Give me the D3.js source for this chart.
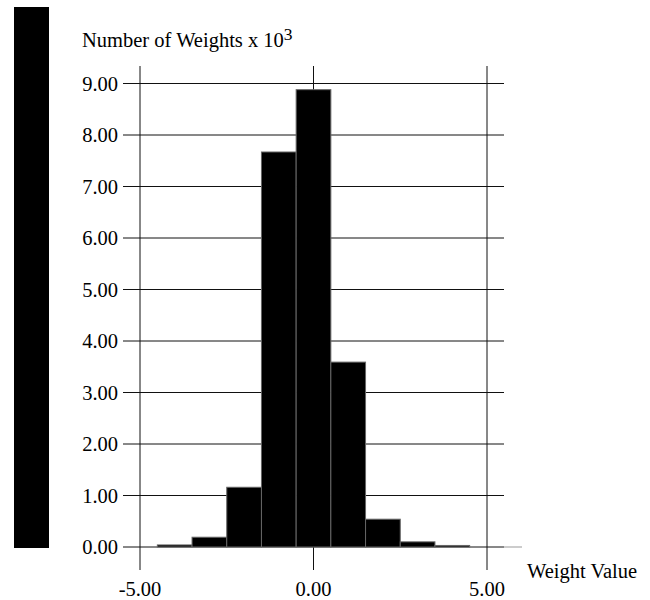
<!DOCTYPE html>
<html>
<head>
<meta charset="utf-8">
<script src="https://cdn.jsdelivr.net/npm/d3@7"></script>
<style>
	body { margin: 0; background: #fff; }
	text { font-family: "Liberation Serif", "Times New Roman", serif; fill: #000; }
</style>
</head>
<body>
<div id="chart"></div>
<script>
// histogram bins (left edge, width 1) and counts in thousands
var binStarts = [-4.5, -3.5, -2.5, -1.5, -0.5, 0.5, 1.5, 2.5, 3.5];
var counts = [0.04, 0.19, 1.16, 7.67, 8.88, 3.59, 0.54, 0.10, 0.03];
var xTicks = [-5, 0, 5];
var yTicks = [0, 1, 2, 3, 4, 5, 6, 7, 8, 9];

var width = 650, height = 600;

var svg = d3.select("#chart")
			.append("svg")
			.attr("width", width)
			.attr("height", height);

var x = d3.scaleLinear().domain([-5, 5]).range([140, 487]);
var y = d3.scaleLinear().domain([0, 9]).range([547, 83.5]);

// plain hyphen for negatives, like the original
var fmt = function (d) { return d3.format(".2f")(d).replace("\u2212", "-"); };

// black strip on the left
svg.append("rect")
   .attr("x", 14)
   .attr("y", 7)
   .attr("width", 35)
   .attr("height", y(0) + 1 - 7)
   .attr("fill", "#000");

// horizontal grid lines
svg.append("g")
   .selectAll("line")
   .data(yTicks)
   .enter()
   .append("line")
   .attr("x1", x(-5) - 17)
   .attr("x2", x(5) + 17)
   .attr("y1", function (d) { return y(d); })
   .attr("y2", function (d) { return y(d); })
   .attr("stroke", "#111")
   .attr("stroke-width", 1);

// extra bit of the baseline
svg.append("line")
   .attr("x1", x(5) + 17)
   .attr("x2", x(5) + 35)
   .attr("y1", y(0))
   .attr("y2", y(0))
   .attr("stroke", "#999")
   .attr("stroke-width", 1);

// vertical grid lines
svg.append("g")
   .selectAll("line")
   .data(xTicks)
   .enter()
   .append("line")
   .attr("x1", function (d) { return x(d); })
   .attr("x2", function (d) { return x(d); })
   .attr("y1", y(9) - 17.5)
   .attr("y2", y(0) + 23)
   .attr("stroke", "#111")
   .attr("stroke-width", 1);

// bars
svg.append("g")
   .selectAll("rect")
   .data(counts)
   .enter()
   .append("rect")
   .attr("x", function (d, i) { return x(binStarts[i]); })
   .attr("width", function (d, i) { return x(binStarts[i] + 1) - x(binStarts[i]); })
   .attr("y", function (d) { return y(d); })
   .attr("height", function (d) { return y(0) - y(d); })
   .attr("fill", "#000")
   .attr("stroke", "#666")
   .attr("stroke-width", 1);

// y labels
svg.append("g")
   .selectAll("text")
   .data(yTicks)
   .enter()
   .append("text")
   .attr("x", 118)
   .attr("y", function (d) { return y(d) + 7; })
   .attr("text-anchor", "end")
   .style("font-size", "20.5px")
   .text(function (d) { return fmt(d); });

// x labels
svg.append("g")
   .selectAll("text")
   .data(xTicks)
   .enter()
   .append("text")
   .attr("x", function (d) { return x(d); })
   .attr("y", 596)
   .attr("text-anchor", "middle")
   .style("font-size", "20.5px")
   .text(function (d) { return fmt(d); });

// axis titles
var title = svg.append("text")
			   .attr("x", 82)
			   .attr("y", 47)
			   .style("font-size", "20.5px");
title.append("tspan").text("Number of Weights x 10");
title.append("tspan")
	 .attr("dy", -7)
	 .style("font-size", "17.5px")
	 .text("3");

svg.append("text")
   .attr("x", 527)
   .attr("y", 578)
   .style("font-size", "20.5px")
   .text("Weight Value");
</script>
</body>
</html>
